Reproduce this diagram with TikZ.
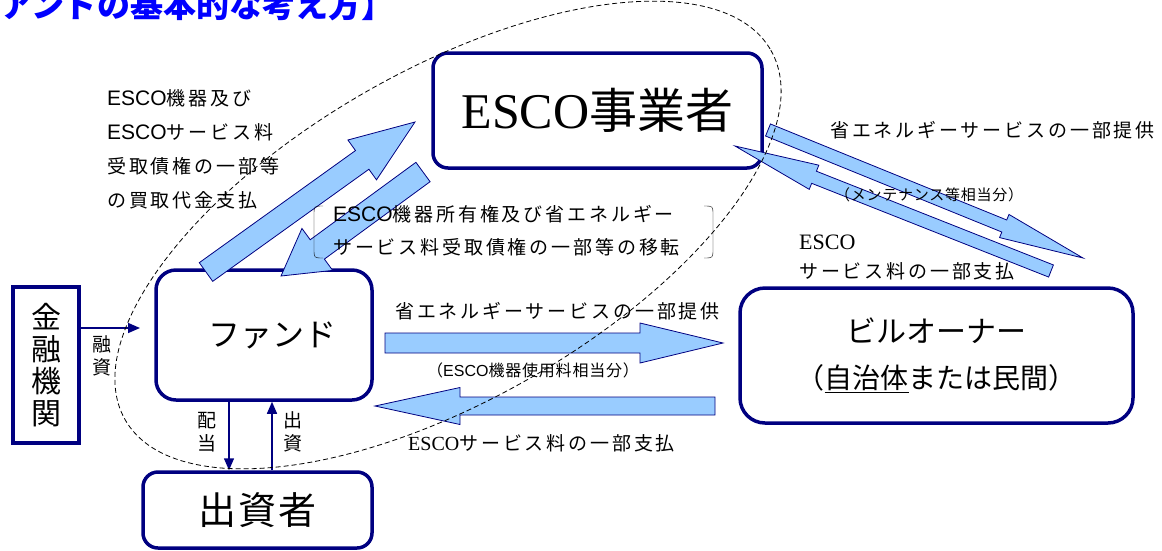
\documentclass[tikz,border=0pt]{standalone}
\usepackage{fontspec}
\setmainfont{Noto Sans CJK JP}
\newfontfamily\timesfont{Liberation Serif}
\newfontfamily\arialfont{Liberation Sans}
\usetikzlibrary{calc,arrows.meta}
\definecolor{boxblue}{RGB}{0,0,128}
\definecolor{arrowfill}{RGB}{153,204,255}
\newcommand\fs[2]{\fontsize{#1}{#2}\selectfont}
\newcommand\spaced{\addfontfeature{LetterSpace=15}}
\newcommand\esco{{\arialfont\fontsize{21}{21}\selectfont ESCO}}
% block arrow: tail, tip, half shaft, half head, head length
\newcommand\bigarrow[5]{%
  \coordinate (head) at ($(#2)!#5!(#1)$);
  \draw[blockarrow] ($(#1)!#3!90:(#2)$) -- ($(head)!#3!90:(#2)$)
    -- ($(head)!#4!90:(#2)$) -- (#2) -- ($(head)!#4!-90:(#2)$)
    -- ($(head)!#3!-90:(#2)$) -- ($(#1)!#3!-90:(#2)$) -- cycle;
}
\tikzset{
  box/.style={draw=boxblue, line width=3.5pt, rounded corners=15pt, align=center, inner sep=0pt},
  blockarrow/.style={draw=boxblue, fill=arrowfill, line width=0.8pt},
  flowline/.style={draw=boxblue, line width=1.5pt, -{Triangle[length=12pt,width=10pt]}},
  lbl/.style={inner sep=0pt, anchor=west, align=left},
  small/.style={inner sep=0pt, align=center, font=\fs{19}{23}},
}
\begin{document}
\begin{tikzpicture}[x=1pt, y=-1pt]
\useasboundingbox (0,0) rectangle (1162,550);
\clip (0,0) rectangle (1162,550);
  % title
  \node[inner sep=0pt, anchor=base west, text=blue, font=\fs{33}{33}\bfseries] (title) at (0,17)
    {アンドの基本的な考え方】};
  % boxes
  \node[box, minimum width=329pt, minimum height=115pt] (esco) at (597.5,110.5)
    {\fs{50}{50}\timesfont ESCO\fs{48}{48}\rmfamily 事業者};
  \node[box, rounded corners=20pt, minimum width=216pt, minimum height=130pt] (fund) at (264,335)
    {\hspace*{16pt}\fs{32}{32}ファンド};
  \node[box, minimum width=229pt, minimum height=76pt] (investor) at (257.5,510)
    {\fs{38}{38}\addfontfeature{LetterSpace=5}出資者};
  \node[draw=boxblue, line width=3.5pt, minimum width=66pt, minimum height=156pt,
    align=center, inner sep=0pt, font=\fs{30}{32}] (bank) at (46,365) {金\\融\\機\\関};
  \node[box, rounded corners=25pt, minimum width=393pt, minimum height=135pt] (owner) at (936.5,355.5)
    {\fs{30}{36}ビルオーナー\\[20pt]\fs{28}{36}（\underline{自治体}または民間）};
  % thin arrows
  \coordinate (loan-end) at (140,328);
  \draw[flowline] (bank.east |- loan-end) -- (loan-end);
  \node[small] (loan) at (102,356) {融\\資};
  \draw[flowline] ([xshift=-35pt]fund.south) -- ([xshift=-35pt]fund.south |- investor.north);
  \draw[flowline] ([xshift=8pt]fund.south |- investor.north) -- ([xshift=8pt]fund.south);
  \node[small] (dividend) at (207,432) {配\\当};
  \node[small] (invest) at (293,432) {出\\資};
  % block arrows
  \coordinate (buy-from) at (206,272);
  \coordinate (buy-to) at (415,122);
  \coordinate (move-from) at (423,172);
  \coordinate (move-to) at (281,276);
  \coordinate (svc-from) at (768,130);
  \coordinate (svc-to) at (1083,258);
  \coordinate (pay-from) at (1051,271);
  \coordinate (pay-to) at (735,146);
  \coordinate (use-from) at (385,343);
  \coordinate (use-to) at (723,343);
  \coordinate (fee-from) at (715,406);
  \coordinate (fee-to) at (375,406);
  \bigarrow{buy-from}{buy-to}{11.5pt}{24.5pt}{65pt}
  \bigarrow{move-from}{move-to}{12pt}{26pt}{45pt}
  \bigarrow{svc-from}{svc-to}{6.5pt}{12.5pt}{85pt}
  \bigarrow{pay-from}{pay-to}{6.5pt}{13pt}{85pt}
  \bigarrow{use-from}{use-to}{10pt}{20pt}{83pt}
  \bigarrow{fee-from}{fee-to}{9pt}{18.5pt}{85pt}
  % labels
  \node[lbl, font=\fs{19}{34}\spaced] (buy) at (107,149)
    {\esco 機器及び\\\esco サービス料\\受取債権の一部等\\の買取代金支払};
  \node[lbl, font=\fs{19}{33}\spaced] (move) at (333,231)
    {\esco 機器所有権及び省エネルギー\\サービス料受取債権の一部等の移転};
  \draw (323,206) .. controls (314,206) .. (314,215) -- (314,249) .. controls (314,258) .. (323,258);
  \draw (704,206) .. controls (713,206) .. (713,215) -- (713,249) .. controls (713,258) .. (704,258);
  \node[lbl, font=\fs{19}{19}\spaced] (svc) at (830,130) {省エネルギーサービスの一部提供};
  \node[lbl, font=\fs{15}{15}\addfontfeature{LetterSpace=5}] (maint) at (835,195) {（メンテナンス等相当分）};
  \node[lbl, font=\fs{19}{29}\spaced] (pay) at (799,257) {{\timesfont\fs{22}{29}ESCO}\\サービス料の一部支払};
  \node[lbl, font=\fs{19}{19}\spaced] (use) at (395,311) {省エネルギーサービスの一部提供};
  \node[lbl, font=\fs{16}{16}\addfontfeature{LetterSpace=5}] (usefee) at (427,370)
    {（{\arialfont\fs{16}{16}ESCO}機器使用料相当分）};
  \node[lbl, font=\fs{19}{19}\spaced] (fee) at (408,443) {{\timesfont\fs{20}{20}ESCO}サービス料の一部支払};
  % dashed boundary
  \draw[dash pattern=on 5pt off 3pt, line width=0.8pt, rotate around={29.8:(448,235)}]
    (448,235) ellipse [x radius=372, y radius=165];
\end{tikzpicture}
\end{document}
